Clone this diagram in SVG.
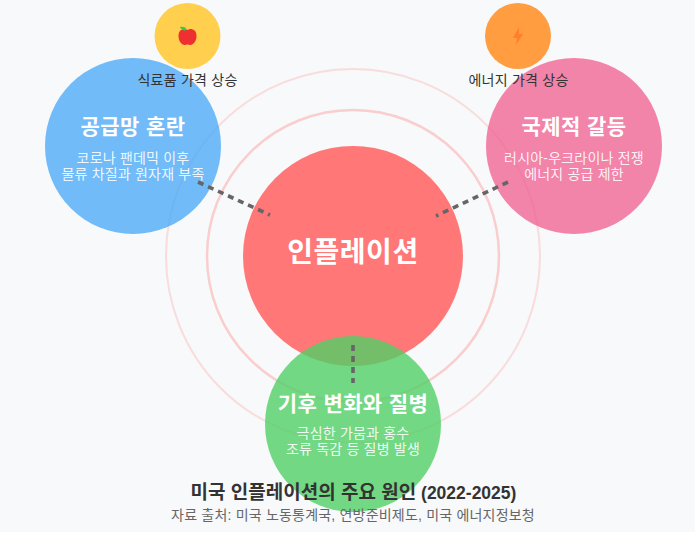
<svg xmlns="http://www.w3.org/2000/svg" width="695" height="550" viewBox="0 0 695 550">
<style>
text{font-family:"Liberation Sans","Noto Sans CJK KR",sans-serif;text-anchor:middle}
.h{font-size:21px;font-weight:700;fill:#fff;letter-spacing:.4px}
.d{font-size:14px;fill:#fff;fill-opacity:.9;letter-spacing:.2px}
.l{font-size:14px;fill:#333;letter-spacing:.25px}
.ring{fill:none;stroke:#ff6b6b}
.c{stroke:#666;stroke-width:3.600;stroke-dasharray:6 5;fill:none}
</style>
<rect width="695" height="532" fill="#f8f9fa"/>
<g id="rings">
<circle class="ring" cx="353" cy="256" r="187" stroke-width="2" stroke-opacity=".2"/>
<circle class="ring" cx="353" cy="256" r="146" stroke-width="2.500" stroke-opacity=".3"/>
</g>
<g id="node-center">
<circle cx="353" cy="256" r="110" fill="#ff6b6b" fill-opacity=".92"/>
<text x="353" y="262" style="font-size:28px;font-weight:700;fill:#fff;letter-spacing:.5px">인플레이션</text>
</g>
<g id="node-supply">
<circle cx="133" cy="146" r="88" fill="#4dabf7" fill-opacity=".8"/>
<text class="h" x="133" y="134">공급망 혼란</text>
<text class="d" x="133" y="163">코로나 팬데믹 이후</text>
<text class="d" x="133" y="179">물류 차질과 원자재 부족</text>
</g>
<g id="node-conflict">
<circle cx="574" cy="146" r="88" fill="#f06595" fill-opacity=".8"/>
<text class="h" x="574" y="134">국제적 갈등</text>
<text class="d" x="574" y="163">러시아-우크라이나 전쟁</text>
<text class="d" x="574" y="179">에너지 공급 제한</text>
</g>
<g id="node-climate">
<circle cx="353" cy="424" r="88" fill="#51cf66" fill-opacity=".8"/>
<text class="h" x="353" y="411">기후 변화와 질병</text>
<text class="d" x="353" y="438">극심한 가뭄과 홍수</text>
<text class="d" x="353" y="454">조류 독감 등 질병 발생</text>
</g>
<g id="node-food">
<circle cx="187.500" cy="36" r="33" fill="#ffca3a" fill-opacity=".9"/>
<path d="M187.500 30c3-2 9-1 9 6c0 6-4 9-6 9c-1.500 0-2-.5-3-.5s-1.500.5-3 .5c-2 0-6-3-6-9c0-7 6-8 9-6z" fill="#f03030"/>
<path d="M180 27c3-1 6 0 7 3c-3 1-6 0-7-3z" fill="#2ecc50"/>
<text class="l" x="187.500" y="85">식료품 가격 상승</text>
</g>
<g id="node-energy">
<circle cx="518" cy="36" r="33" fill="#ff922b" fill-opacity=".9"/>
<polygon points="519,27 513,38 517,38 516,45 523,34 519,34" fill="#ff7f2a"/>
<text class="l" x="518.500" y="85">에너지 가격 상승</text>
</g>
<g id="connectors">
<line class="c" x1="198" y1="182" x2="270" y2="215"/>
<line class="c" x1="508" y1="182" x2="436" y2="216"/>
<line class="c" x1="353" y1="345" x2="353" y2="383"/>
</g>
<g id="caption">
<text x="353.500" y="499" style="font-size:17.500px;font-weight:700;fill:#333"><tspan font-size="19">미국 인플레이션의 주요 원인</tspan> (2022-2025)</text>
<text x="353" y="520" style="font-size:14px;fill:#666;letter-spacing:.2px">자료 출처: 미국 노동통계국, 연방준비제도, 미국 에너지정보청</text>
</g>
</svg>
